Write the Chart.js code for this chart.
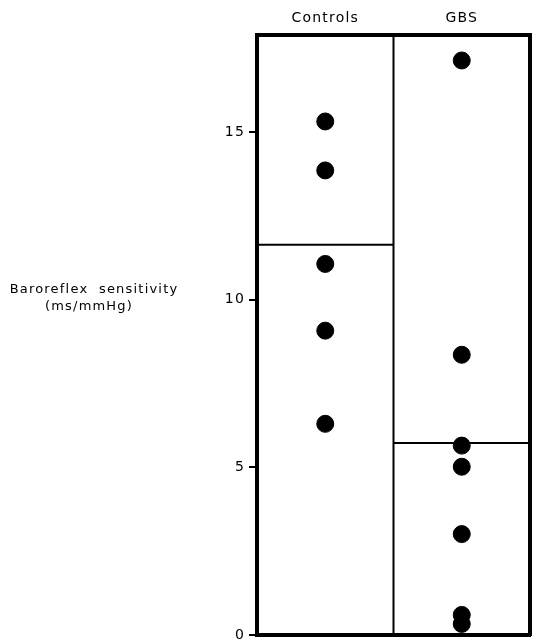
<!DOCTYPE html>
<html>
<head>
<meta charset="utf-8">
<script src="https://cdn.jsdelivr.net/npm/chart.js@4"></script>
<style>
  html, body { margin: 0; padding: 0; background: #fff; }
  #wrap { width: 533px; height: 640px; }
</style>
</head>
<body>
<div id="wrap"><canvas id="bsChart" width="533" height="640"></canvas></div>
<script>
// groups and values
const groups = ["Controls", "GBS"];
const controlsValues = [15.32, 13.86, 11.07, 9.08, 6.30];
const gbsValues = [17.14, 8.36, 5.65, 5.02, 3.01, 0.60, 0.33];
const groupMeans = [11.64, 5.73];
const yTicks = [0, 5, 10, 15];
const yMax = 17.9;
const yTitle = ["Baroreflex  sensitivity", "(ms/mmHg)"];

const FONT = "'DejaVu Sans', sans-serif";

// each group sits in its own column: Controls at 0.5, GBS at 1.5
const pointsFor = (vals, i) => vals.map((v) => ({ x: i + 0.5, y: v }));

// the scanned lettering is widely spaced
const spacing = {
  id: "spacing",
  beforeDraw(chart) {
    chart.ctx.letterSpacing = "1.2px";
  },
};

// y title sits far to the left, horizontal, two lines
const sideTitle = {
  id: "sideTitle",
  afterDraw(chart) {
    const ctx = chart.ctx;
    const y = chart.scales.y.getPixelForValue(10);
    ctx.save();
    ctx.fillStyle = "#000";
    ctx.font = "13px " + FONT;
    ctx.textAlign = "center";
    ctx.textBaseline = "middle";
    ctx.fillText(yTitle[0], 94, y - 10);
    ctx.fillText(yTitle[1], 89, y + 7);
    ctx.restore();
  },
};

const noPad = (s) => {
  s.paddingLeft = 0;
  s.paddingRight = 0;
  s.paddingTop = 0;
  s.paddingBottom = 0;
};

new Chart(document.getElementById("bsChart"), {
  type: "scatter",
  data: {
    datasets: [
      {
        label: groups[0],
        data: pointsFor(controlsValues, 0),
        backgroundColor: "#000",
        borderColor: "#000",
        pointRadius: 8.5,
        pointHoverRadius: 8.5,
      },
      {
        label: groups[1],
        data: pointsFor(gbsValues, 1),
        backgroundColor: "#000",
        borderColor: "#000",
        pointRadius: 8.5,
        pointHoverRadius: 8.5,
      },
      {
        // mean lines, one per column
        type: "line",
        label: "mean " + groups[0],
        data: [{ x: 0, y: groupMeans[0] }, { x: 1, y: groupMeans[0] }],
        borderColor: "#000",
        borderWidth: 2,
        pointRadius: 0,
      },
      {
        type: "line",
        label: "mean " + groups[1],
        data: [{ x: 1, y: groupMeans[1] }, { x: 2, y: groupMeans[1] }],
        borderColor: "#000",
        borderWidth: 2,
        pointRadius: 0,
      },
      {
        // divider between the two columns
        type: "line",
        label: "divider",
        data: [{ x: 1, y: 0 }, { x: 1, y: yMax }],
        borderColor: "#000",
        borderWidth: 2,
        pointRadius: 0,
      },
    ],
  },
  options: {
    responsive: false,
    animation: false,
    layout: { autoPadding: false, padding: { left: 0, right: 3, top: 0, bottom: 5 } },
    plugins: {
      legend: { display: false },
      tooltip: { enabled: false },
    },
    scales: {
      x: {
        type: "linear",
        min: 0,
        max: 2,
        position: "bottom",
        ticks: { display: false },
        grid: { display: false },
        border: { display: true, color: "#000", width: 4 },
        afterFit: (s) => { s.height = 0; noPad(s); },
      },
      xTop: {
        type: "linear",
        min: 0,
        max: 2,
        position: "top",
        afterBuildTicks: (s) => { s.ticks = groups.map((g, i) => ({ value: i + 0.5 })); },
        ticks: {
          color: "#000",
          font: { family: FONT, size: 14 },
          padding: 0,
          callback: (v) => groups[Math.floor(v)],
        },
        grid: { display: false },
        border: { display: true, color: "#000", width: 4 },
        afterFit: (s) => { s.height = 35; noPad(s); },
      },
      y: {
        type: "linear",
        min: 0,
        max: yMax,
        position: "left",
        afterBuildTicks: (s) => { s.ticks = yTicks.map((v) => ({ value: v })); },
        ticks: {
          color: "#000",
          font: { family: FONT, size: 14 },
          padding: 4,
        },
        grid: {
          drawOnChartArea: false,
          drawTicks: true,
          tickLength: 8,
          color: "#000",
          lineWidth: 2,
        },
        border: { display: true, color: "#000", width: 4 },
        afterFit: (s) => { s.width = 257; noPad(s); },
      },
      yRight: {
        type: "linear",
        min: 0,
        max: yMax,
        position: "right",
        ticks: { display: false },
        grid: { display: false },
        border: { display: true, color: "#000", width: 4 },
        afterFit: (s) => { s.width = 0; noPad(s); },
      },
    },
  },
  plugins: [spacing, sideTitle],
});
</script>
</body>
</html>
